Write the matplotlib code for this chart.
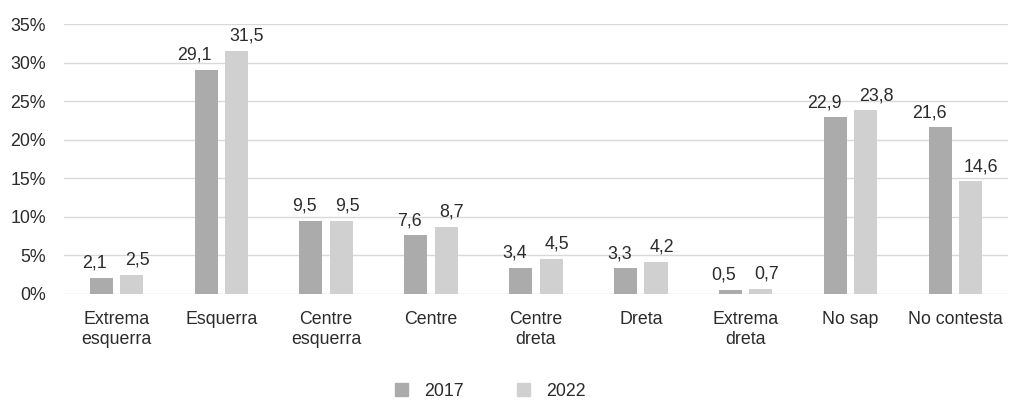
import matplotlib
matplotlib.use("Agg")
import matplotlib.pyplot as plt
import numpy as np
from matplotlib.ticker import FuncFormatter
from matplotlib.patches import Patch

categories = ["Extrema\nesquerra", "Esquerra", "Centre\nesquerra", "Centre", "Centre\ndreta",
              "Dreta", "Extrema\ndreta", "No sap", "No contesta"]
v2017 = [2.1, 29.1, 9.5, 7.6, 3.4, 3.3, 0.5, 22.9, 21.6]
v2022 = [2.5, 31.5, 9.5, 8.7, 4.5, 4.2, 0.7, 23.8, 14.6]
series_names = ["2017", "2022"]
yticks = [0, 5, 10, 15, 20, 25, 30, 35]

plt.rcParams['font.family'] = ['Liberation Sans', 'DejaVu Sans']
txt = "#2b2b2b"
c17 = "#ababab"
c22 = "#d0d0d0"
fs = 12.8

fig = plt.figure(figsize=(10.15, 4.01), dpi=100)
ax = fig.add_axes([0.063, 0.267, 0.93, 0.673])

x = np.arange(len(categories))
w = 0.22
off = 0.145
b1 = ax.bar(x - off, v2017, w, color=c17, zorder=3)
b2 = ax.bar(x + off, v2022, w, color=c22, zorder=3)

def fmt(v):
    return f"{v:.1f}".replace(".", ",")

for r, v in zip(b1, v2017):
    ax.annotate(fmt(v), (r.get_x() + r.get_width(), v), xytext=(-4, 4.5),
                textcoords="offset points", ha="right", va="bottom",
                fontsize=fs, color=txt)
for r, v in zip(b2, v2022):
    ax.annotate(fmt(v), (r.get_x(), v), xytext=(3.5, 4.5),
                textcoords="offset points", ha="left", va="bottom",
                fontsize=fs, color=txt)

ax.set_xlim(-0.5, len(categories) - 0.5)
ax.set_ylim(0, 35)
ax.set_yticks(yticks)
ax.yaxis.set_major_formatter(FuncFormatter(lambda v, p: f"{int(v)}%"))
ax.set_xticks(x)
ax.set_xticklabels(categories, fontsize=fs, color=txt, linespacing=1.25)
ax.tick_params(axis="y", labelsize=fs, labelcolor=txt, length=0, pad=13)
ax.tick_params(axis="x", length=0, pad=12)
ax.grid(axis="y", color="#d9d9d9", linewidth=1, zorder=0)
for s in ax.spines.values():
    s.set_visible(False)

handles = [Patch(color=c17, label=series_names[0]), Patch(color=c22, label=series_names[1])]
fig.legend(handles=handles, loc="center", bbox_to_anchor=(0.483, 0.024), ncol=2,
           frameon=False, fontsize=fs, handlelength=0.75, handleheight=0.75,
           columnspacing=3.0, handletextpad=0.9, labelcolor=txt,
           borderpad=0.2)

fig.savefig("out.png", dpi=100)
